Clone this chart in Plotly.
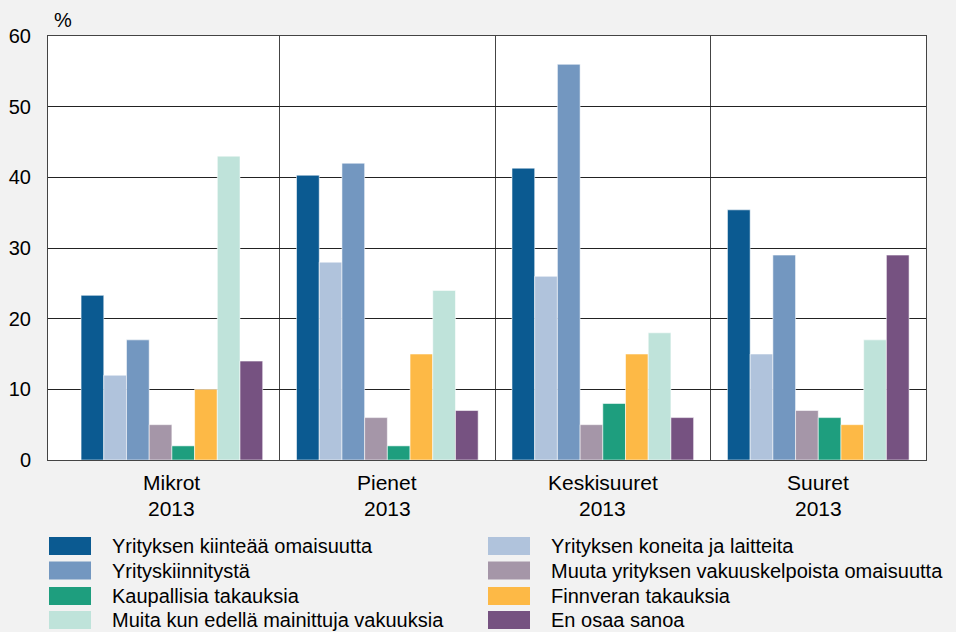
import plotly.graph_objects as go

categories = ["Mikrot", "Pienet", "Keskisuuret", "Suuret"]
year_labels = ["2013", "2013", "2013", "2013"]
series_names = [
    "Yrityksen kiinteää omaisuutta",
    "Yrityksen koneita ja laitteita",
    "Yrityskiinnitystä",
    "Muuta yrityksen vakuuskelpoista omaisuutta",
    "Kaupallisia takauksia",
    "Finnveran takauksia",
    "Muita kun edellä mainittuja vakuuksia",
    "En osaa sanoa",
]
kiintea = [23.3, 40.3, 41.3, 35.4]
koneita = [12, 28, 26, 15]
kiinnitys = [17, 42, 56, 29]
muuta = [5, 6, 5, 7]
kaupallisia = [2, 2, 8, 6]
finnvera = [10, 15, 15, 5]
muita = [43, 24, 18, 17]
en_osaa = [14, 7, 6, 29]
series_values = [kiintea, koneita, kiinnitys, muuta, kaupallisia, finnvera, muita, en_osaa]
colors = ["#0B5A91", "#B0C3DC", "#7397C0", "#A596A8", "#1E9E7E", "#FDB946", "#BFE3DA", "#765281"]
y_ticks = [0, 10, 20, 30, 40, 50, 60]

FONT = "Liberation Sans, Arial, sans-serif"
xpos = list(range(len(categories)))

W, H = 956, 632
ml, mr, mt, mb = 48, 30, 36, 172
pw, ph = W - ml - mr, H - mt - mb


def px2paper_x(px):
    return (px - ml) / pw


def px2paper_y(py):
    return (H - mb - py) / ph


fig = go.Figure()
for name, vals, col in zip(series_names, series_values, colors):
    fig.add_trace(go.Bar(
        x=xpos, y=vals, name=name,
        marker=dict(color=col, line=dict(color="rgba(255,255,255,0.55)", width=1)),
        showlegend=False,
    ))

annotations = []
for i, (c, yl) in enumerate(zip(categories, year_labels)):
    annotations.append(dict(x=i, y=px2paper_y(482), xref="x", yref="paper", text=c, showarrow=False,
                            font=dict(size=21, color="black", family=FONT),
                            xanchor="center", yanchor="middle"))
    annotations.append(dict(x=i, y=px2paper_y(509), xref="x", yref="paper", text=yl, showarrow=False,
                            font=dict(size=21, color="black", family=FONT),
                            xanchor="center", yanchor="middle"))
annotations.append(dict(x=px2paper_x(63), y=px2paper_y(20), xref="paper", yref="paper", text="%",
                        showarrow=False, xanchor="center", yanchor="middle",
                        font=dict(size=20, color="black", family=FONT)))

# custom legend (row-major, 2 columns)
shapes = []
col_x = [49, 488]
row_y = [546, 570.5, 596, 620]
for k, (name, col) in enumerate(zip(series_names, colors)):
    r, c = divmod(k, 2)
    x0 = col_x[c]
    yc = row_y[r]
    shapes.append(dict(type="rect", xref="paper", yref="paper",
                       x0=px2paper_x(x0), x1=px2paper_x(x0 + 42),
                       y0=px2paper_y(yc + 9), y1=px2paper_y(yc - 9),
                       fillcolor=col, line=dict(width=0)))
    annotations.append(dict(x=px2paper_x(x0 + 61), y=px2paper_y(yc), xref="paper", yref="paper",
                            text=name, showarrow=False, xanchor="left", yanchor="middle",
                            font=dict(size=20, color="black", family=FONT)))

fig.update_layout(
    width=W, height=H,
    margin=dict(l=ml, r=mr, t=mt, b=mb),
    paper_bgcolor="#F2F2F2", plot_bgcolor="white",
    barmode="group", bargap=0.157, bargroupgap=0,
    font=dict(family=FONT, size=20, color="black"),
    annotations=annotations, shapes=shapes,
    xaxis=dict(range=[-0.575, 3.5], tickvals=[0.5, 1.5, 2.5], showticklabels=False,
               showgrid=True, gridcolor="#444", gridwidth=1, zeroline=False, automargin=False,
               showline=True, linecolor="#444", linewidth=1, mirror=True, ticks=""),
    yaxis=dict(range=[0, 60], tickvals=y_ticks, showgrid=True, gridcolor="#222", gridwidth=1,
               zeroline=False, showline=True, linecolor="#444", linewidth=1, mirror=True,
               automargin=False, ticks="", ticklabelstandoff=12,
               tickfont=dict(size=20, family=FONT)),
)

fig.write_html(
    "out.html",
    config={"displayModeBar": False},
    post_script="document.body.style.margin='0';document.body.style.overflow='hidden';"
                "document.documentElement.style.overflow='hidden';",
)
